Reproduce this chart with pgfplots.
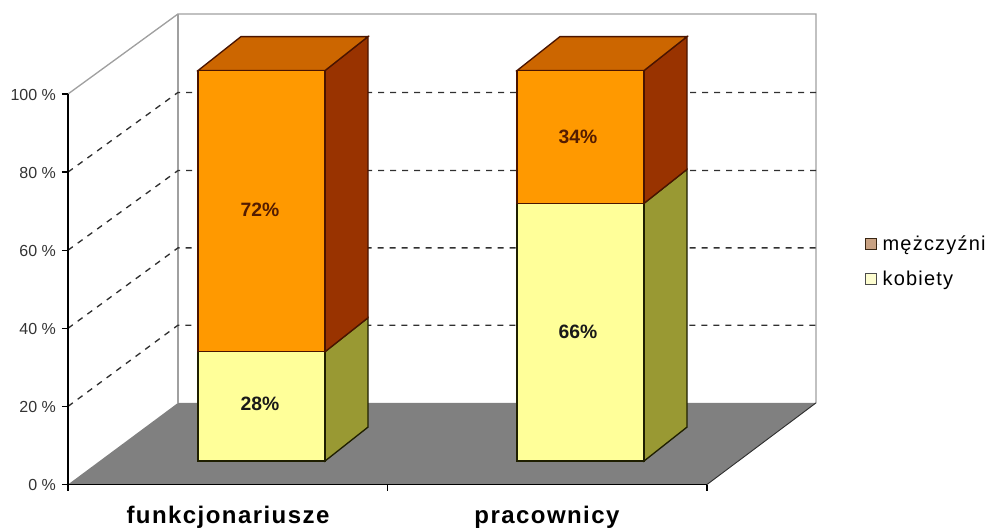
\documentclass[border=0pt]{standalone}
\usepackage{fontspec}
\setmainfont{Liberation Sans}
\usepackage{pgfplots}
\pgfplotsset{compat=1.18}
% colours of the old Excel 3D style
\definecolor{orfront}{HTML}{FF9900}
\definecolor{orside}{HTML}{993300}
\definecolor{ortop}{HTML}{CC6600}
\definecolor{yefront}{HTML}{FFFF99}
\definecolor{yeside}{HTML}{999933}
\definecolor{edgeor}{HTML}{4A1400}
\definecolor{edgeye}{HTML}{1F1F00}
\definecolor{floorc}{HTML}{808080}
\definecolor{wallc}{HTML}{A0A0A0}
\definecolor{gridc}{HTML}{303030}
\definecolor{legm}{HTML}{C9A283}
\definecolor{legk}{HTML}{FDFDD0}
\begin{document}
\begin{tikzpicture}[x=0.75pt,y=0.75pt]
% page box: 990x529 px at 0.75pt per px, axis origin is at px (68,484.5)
\useasboundingbox (-68,-44.5) rectangle (922,484.5);
\begin{axis}[
    scale only axis,
    width=479.25pt, height=292.875pt,
    xmin=68, xmax=707, ymin=0, ymax=100,
    clip=false,
    axis on top,
    axis x line=bottom, axis y line=left,
    axis line style={-, black, line width=1pt},
    tick align=outside,
    tick style={black, line width=1pt},
    major tick length=4.5pt,
    ytick={0,20,40,60,80,100},
    yticklabels={0 \%,20 \%,40 \%,60 \%,80 \%,100 \%},
    yticklabel style={font=\fontsize{12}{14}\selectfont, text=black!80, xshift=-1pt, yshift=-0.5pt},
    xtick={68,387.5,707},
    xticklabels={},
    extra x ticks={228,547},
    extra x tick labels={funkcjonariusze,pracownicy},
    extra x tick style={
        major tick length=0pt,
        tick style={draw=none},
        xticklabel style={font=\fontsize{18}{20}\bfseries\addfontfeature{LetterSpace=6}, yshift=-13pt}},
    legend style={at={(1.2465,0.644)}, anchor=north west, draw=none, fill=none,
        font=\fontsize{15}{17}\addfontfeature{LetterSpace=6}, row sep=9.5pt, inner sep=0pt},
    legend cell align=left,
    legend image code/.code={\path[draw=none] (0pt,0pt) -- (11pt,0pt); \draw[#1] (0pt,-4.2pt) rectangle (8.4pt,4.2pt);},
]
% legend
\addlegendimage{fill=legm, draw=black!70!brown, line width=.8pt}
\addlegendentry{mężczyźni}
\addlegendimage{fill=legk, draw=black!70, line width=.8pt}
\addlegendentry{kobiety}

% floor and walls
\addplot[forget plot, draw=none, fill=floorc] coordinates {(68,0) (707,0) (816,20.9) (178,20.9)} -- cycle;
\addplot[forget plot, wallc, line width=1pt] coordinates {(68,100) (178,120.5) (816,120.5) (816,20.9)};
\addplot[forget plot, wallc, line width=1pt] coordinates {(178,20.9) (178,120.5)};
\addplot[forget plot, gridc, line width=.7pt] coordinates {(707,0) (816,20.9)};
% gridlines
\addplot[forget plot, gridc, line width=1pt, dash pattern=on 4.5pt off 4.5pt] coordinates {(68,20) (178,40.8) (816,40.8)};
\addplot[forget plot, gridc, line width=1pt, dash pattern=on 4.5pt off 4.5pt] coordinates {(68,40) (178,60.6) (816,60.6)};
\addplot[forget plot, gridc, line width=1pt, dash pattern=on 4.5pt off 4.5pt] coordinates {(68,60) (178,80.4) (816,80.4)};
\addplot[forget plot, gridc, line width=1pt, dash pattern=on 4.5pt off 4.5pt] coordinates {(68,80) (178,100.4) (816,100.4)};

% funkcjonariusze: base 6, kobiety 28 -> 34, mezczyzni 72 -> 106; depth 43 px, 8.7 %
\addplot[forget plot, fill=yeside, draw=edgeye, line width=1pt] coordinates {(325,6) (368,14.7) (368,42.7) (325,34)} -- cycle;
\addplot[forget plot, fill=yefront, draw=edgeye, line width=1pt] coordinates {(198,6) (325,6) (325,34) (198,34)} -- cycle;
\addplot[forget plot, fill=orside, draw=edgeor, line width=1pt] coordinates {(325,34) (368,42.7) (368,114.7) (325,106)} -- cycle;
\addplot[forget plot, fill=ortop, draw=edgeor, line width=1pt] coordinates {(198,106) (325,106) (368,114.7) (241,114.7)} -- cycle;
\addplot[forget plot, fill=orfront, draw=edgeor, line width=1pt] coordinates {(198,34) (325,34) (325,106) (198,106)} -- cycle;

% pracownicy: kobiety 66 -> 72, mezczyzni 34 -> 106
\addplot[forget plot, fill=yeside, draw=edgeye, line width=1pt] coordinates {(644,6) (687,14.7) (687,80.7) (644,72)} -- cycle;
\addplot[forget plot, fill=yefront, draw=edgeye, line width=1pt] coordinates {(517,6) (644,6) (644,72) (517,72)} -- cycle;
\addplot[forget plot, fill=orside, draw=edgeor, line width=1pt] coordinates {(644,72) (687,80.7) (687,114.7) (644,106)} -- cycle;
\addplot[forget plot, fill=ortop, draw=edgeor, line width=1pt] coordinates {(517,106) (644,106) (687,114.7) (560,114.7)} -- cycle;
\addplot[forget plot, fill=orfront, draw=edgeor, line width=1pt] coordinates {(517,72) (644,72) (644,106) (517,106)} -- cycle;

% value labels
\addplot[forget plot, only marks, mark=none, point meta=explicit symbolic,
    nodes near coords, nodes near coords align=center,
    nodes near coords style={anchor=center, font=\fontsize{14.5}{16}\bfseries, text=black!90}]
    coordinates {(260,20.6)[28\%] (578,39)[66\%]};
\addplot[forget plot, only marks, mark=none, point meta=explicit symbolic,
    nodes near coords, nodes near coords align=center,
    nodes near coords style={anchor=center, font=\fontsize{14.5}{16}\bfseries, text=orside!55!black}]
    coordinates {(260,70.3)[72\%] (578,89)[34\%]};
\end{axis}
\end{tikzpicture}
\end{document}
